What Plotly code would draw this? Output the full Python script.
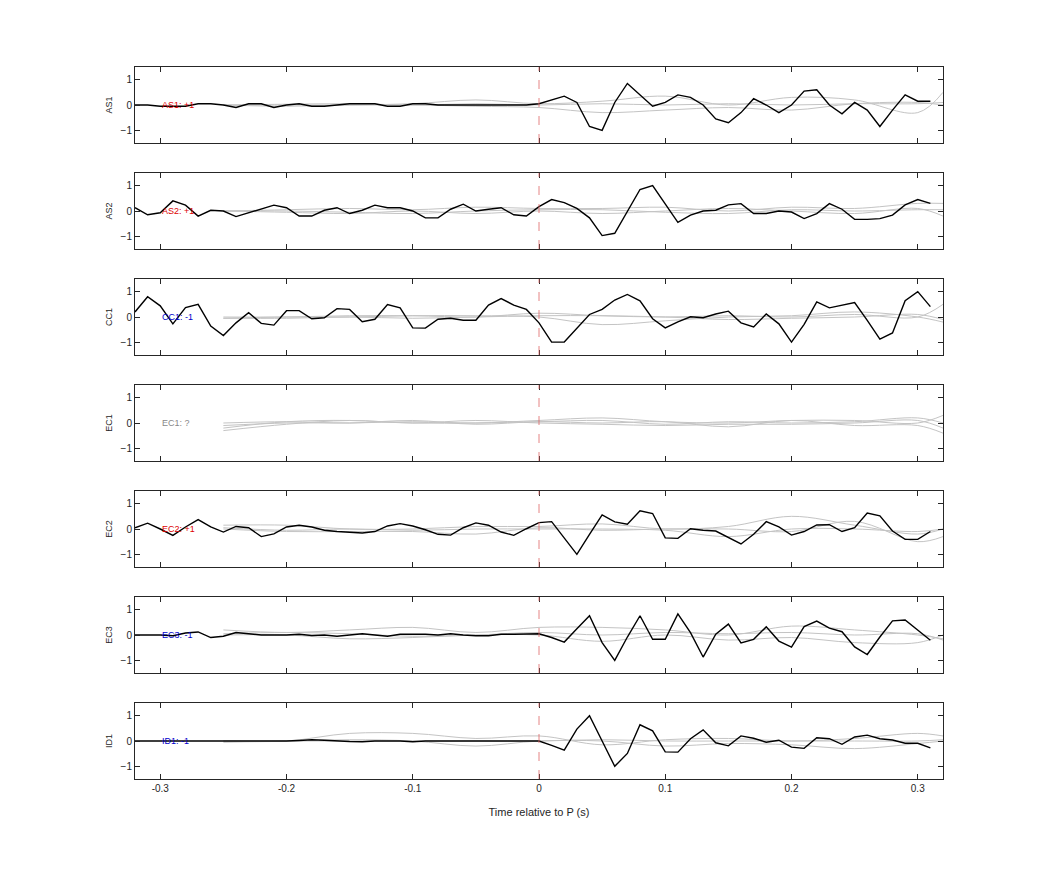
import plotly.graph_objects as go
from plotly.subplots import make_subplots

# station names, polarity labels and colours
stations = ["AS1", "AS2", "CC1", "EC1", "EC2", "EC3", "ID1"]
labels = ["AS1: +1", "AS2: +1", "CC1: -1", "EC1: ?", "EC2: +1", "EC3: -1", "ID1: -1"]
label_colors = ["#dd0000", "#dd0000", "#0000cc", "#888888", "#dd0000", "#0000cc", "#0000cc"]

# black trace sample times (s)
t = [round(-0.32 + 0.01 * k, 2) for k in range(64)]

as1 = [0, 0, -0.05, -0.05, -0.05, 0.05, 0.05, 0.0, -0.1, 0.05, 0.05, -0.1, 0.0, 0.05, -0.05, -0.05,
       0.0, 0.05, 0.05, 0.05, -0.05, -0.05, 0.05, 0.05, 0, 0, 0, 0, 0, 0, 0, 0,
       0.05, 0.2, 0.35, 0.1, -0.85, -1.0, 0.1, 0.85, 0.4, -0.05, 0.1, 0.4, 0.3, 0.0, -0.55, -0.7,
       -0.3, 0.25, 0.0, -0.3, 0.0, 0.55, 0.6, 0.0, -0.35, 0.1, -0.2, -0.85, -0.2, 0.4, 0.15, 0.15]
as2 = [0.13, -0.15, -0.07, 0.4, 0.23, -0.2, 0.03, 0.0, -0.22, -0.07, 0.1, 0.23, 0.13, -0.2, -0.2, 0.03,
       0.13, -0.1, 0.03, 0.23, 0.13, 0.13, 0.0, -0.27, -0.27, 0.07, 0.27, 0.0, 0.07, 0.13, -0.15, -0.2,
       0.17, 0.45, 0.33, 0.1, -0.27, -0.97, -0.88, 0.0, 0.85, 1.0, 0.27, -0.45, -0.16, 0.0, 0.03, 0.24,
       0.29, -0.1, -0.1, 0.0, -0.04, -0.3, -0.1, 0.29, 0.07, -0.33, -0.33, -0.3, -0.16, 0.24, 0.45, 0.3]
cc1 = [0.2, 0.8, 0.44, -0.27, 0.37, 0.5, -0.36, -0.73, -0.23, 0.17, -0.25, -0.32, 0.25, 0.25, -0.07, -0.03,
       0.33, 0.3, -0.19, -0.09, 0.49, 0.36, -0.43, -0.44, -0.09, -0.05, -0.13, -0.13, 0.47, 0.73, 0.47, 0.3,
       -0.23, -0.99, -0.99, -0.43, 0.1, 0.3, 0.67, 0.89, 0.64, -0.07, -0.43, -0.19, 0.01, -0.03, 0.12, 0.23,
       -0.23, -0.39, 0.12, -0.27, -0.99, -0.29, 0.6, 0.36, 0.47, 0.57, -0.13, -0.87, -0.63, 0.64, 1.0, 0.41]
ec1 = None
ec2 = [0.05, 0.23, 0.0, -0.25, 0.08, 0.37, 0.08, -0.12, 0.1, 0.05, -0.3, -0.19, 0.08, 0.15, 0.08, -0.05,
       -0.1, -0.12, -0.16, -0.1, 0.12, 0.21, 0.12, -0.03, -0.21, -0.24, 0.05, 0.24, 0.15, -0.12, -0.25, 0.01,
       0.25, 0.29, -0.35, -1.0, -0.21, 0.56, 0.28, 0.19, 0.72, 0.61, -0.35, -0.37, 0.01, -0.05, -0.08, -0.35,
       -0.59, -0.21, 0.29, 0.08, -0.24, -0.1, 0.16, 0.17, -0.1, 0.05, 0.63, 0.52, -0.08, -0.41, -0.41, -0.1]
ec3 = [0.0, 0.0, 0.0, -0.03, 0.08, 0.12, -0.1, -0.05, 0.1, 0.05, 0.0, 0.0, 0.0, 0.03, -0.02, 0.0,
       -0.05, 0.0, 0.05, 0.0, -0.05, 0.03, 0.03, 0.03, 0.0, 0.05, 0.0, -0.03, -0.03, 0.03, 0.03, 0.03,
       0.05, -0.1, -0.28, 0.25, 0.76, -0.3, -1.0, -0.08, 0.76, -0.17, -0.17, 0.83, 0.09, -0.87, 0.03, 0.43,
       -0.31, -0.17, 0.32, -0.24, -0.48, 0.33, 0.55, 0.27, 0.13, -0.47, -0.77, -0.08, 0.56, 0.59, 0.19, -0.21]
id1 = [0.0, 0.0, 0.0, 0.0, 0.0, 0.0, -0.02, 0.0, 0.0, 0.0, 0.0, 0.0, 0.0, 0.02, 0.05, 0.03,
       0.0, -0.02, -0.03, 0.0, 0.0, 0.0, -0.03, 0.0, 0.0, 0.0, 0.0, 0.0, 0.0, 0.0, 0.0, 0.0,
       0.0, -0.17, -0.36, 0.47, 1.0, 0.0, -1.0, -0.49, 0.64, 0.4, -0.43, -0.44, 0.09, 0.44, -0.07, -0.19,
       0.2, 0.11, -0.05, 0.03, -0.24, -0.29, 0.13, 0.09, -0.13, 0.16, 0.23, 0.09, 0.04, -0.09, -0.09, -0.27]
black = [as1, as2, cc1, ec1, ec2, ec3, id1]

# grey (synthetic) waveforms, sampled at coarse nodes
tg = [-0.25, -0.2, -0.15, -0.1, -0.05, 0.0, 0.05, 0.1, 0.15, 0.2, 0.25, 0.3, 0.32]
grey = [
    [[0, 0, 0, 0.05, 0.2, 0.05, 0.15, 0.35, 0.0, 0.3, 0.2, -0.3, 0.5],
     [0, -0.05, 0, 0, -0.05, -0.1, -0.3, -0.2, -0.1, -0.2, 0.05, 0.1, 0.0],
     [0, 0.03, 0.05, 0, 0.05, 0.0, 0.05, 0.0, 0.05, 0.0, 0.05, 0.05, 0.1]],
    [[0, 0.05, 0.1, 0.05, 0.15, 0.1, 0.1, 0.15, 0.0, 0.15, 0.1, 0.3, 0.3],
     [0, -0.05, -0.1, 0, -0.1, 0.0, -0.1, 0.0, 0.1, 0.0, -0.1, 0.1, -0.2],
     [0, 0.0, -0.05, -0.1, 0.0, 0.05, 0.05, -0.05, -0.1, 0.05, 0.0, 0.05, 0.05]],
    [[0, 0.0, 0.05, 0.05, 0.0, 0.15, 0.05, 0.0, 0.05, 0.0, 0.1, 0.0, 0.5],
     [-0.05, 0.0, 0.0, 0.05, 0.05, 0.0, -0.3, -0.15, 0.0, 0.05, 0.2, 0.0, -0.2],
     [-0.05, -0.05, 0.0, -0.05, 0.0, 0.05, 0.05, 0.0, -0.1, -0.05, 0.0, 0.1, -0.1]],
    [[-0.1, 0.0, 0.0, 0.05, 0.0, 0.1, 0.2, 0.05, 0.0, 0.1, 0.1, 0.0, 0.3],
     [-0.3, -0.05, 0.1, 0.0, 0.1, 0.0, -0.05, -0.1, -0.05, -0.05, 0.0, 0.1, -0.2],
     [0.0, 0.05, 0.0, 0.1, -0.05, 0.05, 0.0, 0.05, -0.15, 0.1, -0.1, -0.1, -0.4],
     [-0.2, 0.05, 0.1, 0.0, 0.0, 0.05, 0.1, -0.05, 0.05, 0.0, 0.05, 0.2, 0.0]],
    [[0.15, 0.15, 0.0, 0.0, 0.1, 0.1, 0.2, 0.0, 0.1, 0.5, 0.15, -0.2, 0.0],
     [0.0, -0.1, -0.1, -0.1, -0.2, 0.05, -0.05, 0.0, 0.0, -0.1, 0.3, -0.5, -0.3],
     [0.05, -0.05, 0.0, -0.05, 0.0, 0.0, 0.0, -0.05, -0.3, 0.0, 0.0, -0.1, 0.0]],
    [[0.2, 0.1, 0.2, 0.3, 0.1, 0.3, 0.3, 0.2, 0.0, 0.35, 0.2, 0.0, -0.15],
     [0.0, 0.0, -0.15, -0.1, 0.0, 0.0, -0.25, 0.0, -0.2, -0.1, -0.3, -0.3, 0.0],
     [0.05, 0.1, 0.05, -0.05, 0.0, 0.1, 0.0, 0.1, 0.05, 0.1, 0.0, 0.05, -0.2]],
    [[0.0, 0.0, 0.3, 0.3, 0.1, 0.2, -0.15, 0.05, 0.1, 0.0, 0.1, 0.3, 0.2],
     [-0.05, 0.0, 0.05, 0.0, -0.2, 0.0, 0.0, -0.2, -0.1, -0.15, -0.3, -0.1, 0.0],
     [0.0, 0.0, 0.0, 0.0, 0.0, 0.0, 0.05, 0.0, 0.0, 0.0, 0.0, 0.0, 0.05]],
]

fig = make_subplots(rows=7, cols=1, shared_xaxes=True, vertical_spacing=30 / 712)

for i, st in enumerate(stations):
    r = i + 1
    sfx = "" if r == 1 else str(r)
    for g in grey[i]:
        fig.add_trace(go.Scatter(x=tg, y=g, mode="lines", line=dict(color="#c4c4c4", width=1, shape="spline"),
                                 hoverinfo="skip"), row=r, col=1)
    if black[i] is not None:
        fig.add_trace(go.Scatter(x=t, y=black[i], mode="lines", line=dict(color="black", width=1.4)),
                      row=r, col=1)
    fig.add_shape(type="line", x0=0, x1=0, y0=0, y1=1, xref="x" + sfx, yref="y" + sfx + " domain",
                  line=dict(color="#e06666", width=1, dash="dash"), opacity=0.8)
    fig.add_annotation(x=-0.30, y=0, xref="x" + sfx, yref="y" + sfx,
                       text=labels[i], showarrow=False, xanchor="left",
                       font=dict(size=9, color=label_colors[i]))
    fig.update_yaxes(range=[-1.5, 1.5], tickvals=[-1, 0, 1], title=dict(text=st, font=dict(size=9), standoff=6),
                     row=r, col=1)

fig.update_xaxes(range=[-0.32, 0.32], tickvals=[-0.3, -0.2, -0.1, 0, 0.1, 0.2, 0.3],
                 ticktext=["-0.3", "-0.2", "-0.1", "0", "0.1", "0.2", "0.3"],
                 ticks="inside", ticklen=5, mirror="ticks", showline=True, linecolor="#262626",
                 linewidth=1, showgrid=False, zeroline=False, tickcolor="#262626")
fig.update_yaxes(ticks="inside", ticklen=5, mirror="ticks", showline=True, linecolor="#262626",
                 linewidth=1, showgrid=False, zeroline=False, tickcolor="#262626")
fig.update_xaxes(title=dict(text="Time relative to P (s)", font=dict(size=11)), row=7, col=1)

fig.update_layout(width=1042, height=875, template="simple_white", showlegend=False,
                  margin=dict(l=127, r=107, t=59, b=104), plot_bgcolor="white", paper_bgcolor="white",
                  font=dict(family="Liberation Sans, Arial, sans-serif", size=10, color="#262626"))

fig.write_html("out.html")
